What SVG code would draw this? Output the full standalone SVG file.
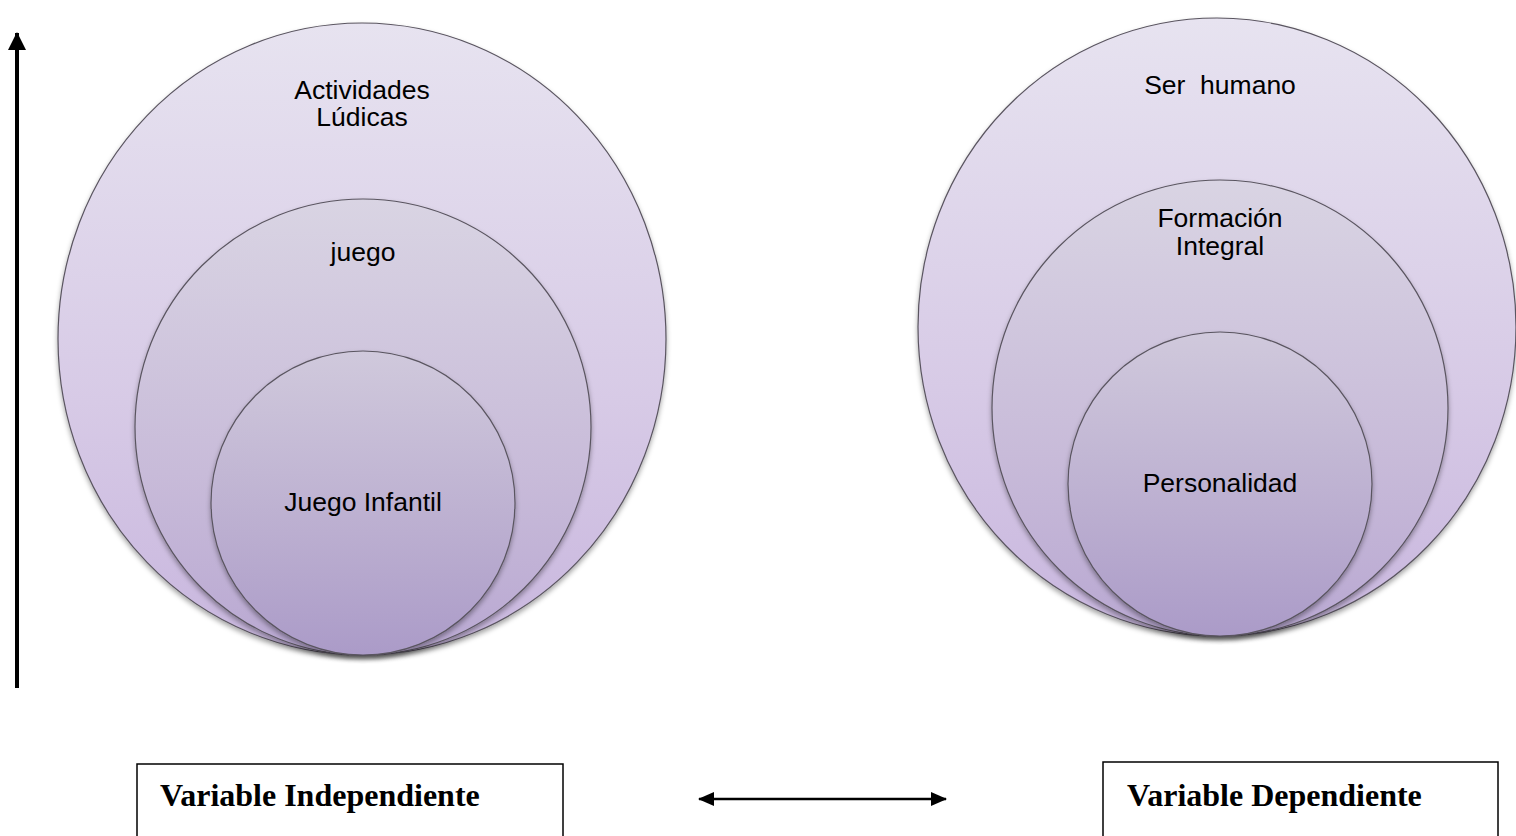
<svg xmlns="http://www.w3.org/2000/svg" width="1516" height="836" viewBox="0 0 1516 836">
  <defs>
    <linearGradient id="gBig" x1="0" y1="0" x2="0" y2="1">
      <stop offset="0" stop-color="#e7e3f0"/>
      <stop offset="0.6" stop-color="#d7cae6"/>
      <stop offset="1" stop-color="#c8b6de"/>
    </linearGradient>
    <linearGradient id="gMid" x1="0" y1="0" x2="0" y2="1">
      <stop offset="0" stop-color="#d9d4e3"/>
      <stop offset="0.6" stop-color="#c8bbd9"/>
      <stop offset="1" stop-color="#b9a8d2"/>
    </linearGradient>
    <linearGradient id="gIn" x1="0" y1="0" x2="0" y2="1">
      <stop offset="0" stop-color="#d0c9dc"/>
      <stop offset="0.6" stop-color="#bbaed0"/>
      <stop offset="1" stop-color="#ab9bc8"/>
    </linearGradient>
    <filter id="sh" x="-10%" y="-10%" width="120%" height="125%">
      <feDropShadow dx="0" dy="3" stdDeviation="2.5" flood-color="#000" flood-opacity="0.35"/>
    </filter>
    <marker id="ahBig" viewBox="0 0 18 18" refX="17" refY="9" markerWidth="18" markerHeight="18" orient="auto" markerUnits="userSpaceOnUse">
      <path d="M0,0 L18,9 L0,18 Z" fill="#000"/>
    </marker>
    <marker id="ahSm" viewBox="0 0 16 14" refX="15" refY="7" markerWidth="16" markerHeight="14" orient="auto-start-reverse" markerUnits="userSpaceOnUse">
      <path d="M0,0 L16,7 L0,14 Z" fill="#000"/>
    </marker>
  </defs>
  <style>
    .c { stroke: #5a5560; stroke-width: 1.2; filter: url(#sh); }
    .big { fill: url(#gBig); }
    .mid { fill: url(#gMid); }
    .inn { fill: url(#gIn); }
    .lbl { font-family: "Liberation Sans", Arial, sans-serif; font-size: 26.5px; fill: #000; text-anchor: middle; }
    .var { font-family: "Liberation Serif", "Times New Roman", serif; font-size: 32px; font-weight: bold; fill: #000; }
    .box { fill: #fff; stroke: #000; stroke-width: 1.5; }
    .con { stroke: #000; fill: none; }
  </style>
  <rect width="1516" height="836" fill="#fff"/>

  <g id="actividades-ludicas">
    <ellipse class="c big" cx="362" cy="339" rx="304" ry="316"/>
    <text class="lbl" x="362" y="99">Actividades</text>
    <text class="lbl" x="362" y="126">Lúdicas</text>
  </g>
  <g id="juego">
    <circle class="c mid" cx="363" cy="427" r="228"/>
    <text class="lbl" x="363" y="261">juego</text>
  </g>
  <g id="juego-infantil">
    <circle class="c inn" cx="363" cy="503" r="152"/>
    <text class="lbl" x="363" y="511">Juego Infantil</text>
  </g>

  <g id="ser-humano">
    <ellipse class="c big" cx="1217" cy="327" rx="299" ry="309"/>
    <text class="lbl" x="1220" y="94" xml:space="preserve">Ser  humano</text>
  </g>
  <g id="formacion-integral">
    <circle class="c mid" cx="1220" cy="408" r="228"/>
    <text class="lbl" x="1220" y="227">Formación</text>
    <text class="lbl" x="1220" y="255">Integral</text>
  </g>
  <g id="personalidad">
    <circle class="c inn" cx="1220" cy="484" r="152"/>
    <text class="lbl" x="1220" y="492">Personalidad</text>
  </g>

  <g id="variable-independiente">
    <rect class="box" x="137" y="764" width="426" height="80"/>
    <text class="var" x="160" y="806">Variable Independiente</text>
  </g>
  <g id="variable-dependiente">
    <rect class="box" x="1103" y="762" width="395" height="82"/>
    <text class="var" x="1127" y="806">Variable Dependiente</text>
  </g>

  <g id="connectors">
    <line class="con" x1="17" y1="688" x2="17" y2="33" stroke-width="4" marker-end="url(#ahBig)"/>
    <line class="con" x1="699" y1="799" x2="946" y2="799" stroke-width="2.5" marker-start="url(#ahSm)" marker-end="url(#ahSm)"/>
  </g>
</svg>
